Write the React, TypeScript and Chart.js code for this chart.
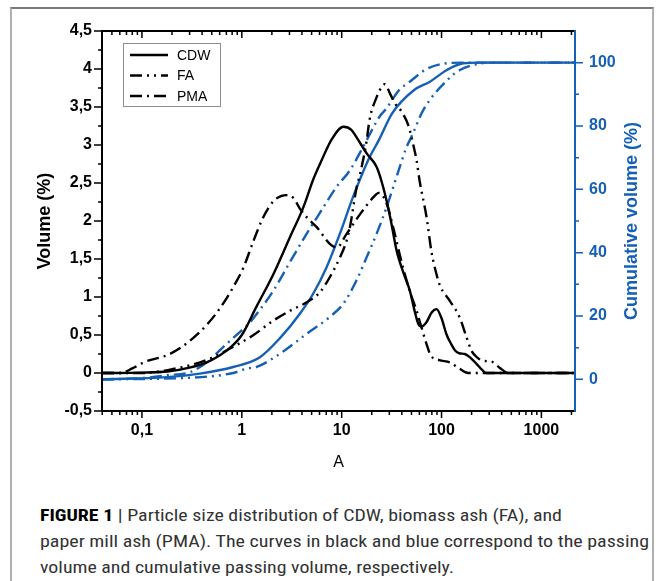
import React, { useEffect, useRef } from 'react';
import { Chart, registerables } from 'chart.js';

Chart.register(...registerables);

const BLACK = '#000000';
const BLUE = '#1560b5';
const FONT = '"Liberation Sans", Arial, Helvetica, sans-serif';

const seriesLabels = ['CDW', 'FA', 'PMA'];
const xTickValues = [0.1, 1, 10, 100, 1000];
const volumeTickValues = [-0.5, 0, 0.5, 1, 1.5, 2, 2.5, 3, 3.5, 4, 4.5];
const cumulativeTickValues = [0, 20, 40, 60, 80, 100];
const rightTitle = 'Cumulative volume (%)';

// Volume (%) curves, black, left axis
const cdwSize = [0.0398, 0.1, 0.18, 0.3, 0.48, 0.76, 1.0, 1.41, 2.07, 3.04, 4.13, 5.2, 6.3, 8.0, 10.4, 12.5, 14.1, 17.8, 22.4, 26.1, 30.6, 35.5, 42, 48.2, 53, 58.3, 63, 70, 80, 89, 100, 112, 125, 136, 150, 171, 195, 224, 255, 282, 2170];
const cdwVolume = [0, 0.005, 0.02, 0.07, 0.16, 0.33, 0.5, 0.88, 1.3, 1.79, 2.18, 2.55, 2.8, 3.08, 3.24, 3.2, 3.1, 2.89, 2.71, 2.44, 2.05, 1.61, 1.3, 1.08, 0.85, 0.65, 0.61, 0.66, 0.8, 0.84, 0.72, 0.51, 0.38, 0.3, 0.26, 0.25, 0.2, 0.12, 0.04, 0, 0];

const faSize = [0.0398, 0.1, 0.15, 0.2, 0.3, 0.5, 0.89, 1.31, 2.07, 3.04, 4.47, 6.03, 7.6, 9.6, 11.2, 12.1, 14.1, 15.3, 17.8, 19.0, 22.4, 25.1, 27, 30.4, 34, 39.8, 46.4, 52.8, 56.2, 60.3, 70.8, 79.4, 89, 96.4, 121, 152, 178, 200, 230, 261, 316, 381, 466, 2170];
const faVolume = [0, 0, 0.02, 0.05, 0.1, 0.2, 0.37, 0.5, 0.69, 0.82, 0.93, 1.06, 1.26, 1.52, 1.74, 1.92, 2.44, 2.62, 3.06, 3.33, 3.63, 3.76, 3.8, 3.68, 3.55, 3.44, 3.26, 2.97, 2.8, 2.53, 2.05, 1.59, 1.3, 1.15, 0.95, 0.73, 0.47, 0.29, 0.2, 0.16, 0.15, 0.07, 0, 0];

const pmaSize = [0.0398, 0.061, 0.08, 0.104, 0.19, 0.3, 0.45, 0.61, 0.82, 1.04, 1.31, 1.64, 2.07, 2.5, 2.82, 3.3, 3.83, 4.6, 5.62, 7.6, 8.9, 11.2, 15.3, 20.7, 23.5, 28.2, 33, 40, 48, 56.2, 63, 70.8, 78, 95, 121, 150, 185, 2170];
const pmaVolume = [0, 0, 0.06, 0.14, 0.25, 0.42, 0.64, 0.86, 1.13, 1.39, 1.74, 2.05, 2.26, 2.33, 2.34, 2.3, 2.16, 2.03, 1.92, 1.7, 1.65, 1.83, 2.09, 2.31, 2.37, 2.23, 1.9, 1.45, 1.08, 0.82, 0.6, 0.38, 0.23, 0.17, 0.14, 0.06, 0, 0];

// Cumulative volume (%) curves, blue, right axis
const cdwCumSize = [0.0398, 0.178, 0.38, 0.82, 1.52, 2.41, 3.83, 5.2, 7.08, 9.6, 13.0, 18.4, 24, 32, 52.8, 76.6, 112, 165, 238, 2170];
const cdwCumulative = [0, 0.7, 1.8, 3.9, 7.0, 13, 20.8, 27.1, 35.5, 46, 57.6, 69.2, 76, 84, 91.3, 94, 97.6, 99.8, 100, 100];

const faCumSize = [0.0398, 0.3, 0.82, 1.12, 1.41, 2.41, 4.47, 7.6, 10.4, 14.1, 17.8, 22.4, 28.2, 38.2, 44.7, 50, 65.6, 116, 151, 224, 300, 2170];
const faCumulative = [0, 0.5, 2, 3.4, 3.9, 8.1, 14.4, 19.7, 23.9, 31.3, 38.6, 46, 54.4, 67.1, 73.4, 76.6, 85, 94.7, 97.6, 99.5, 100, 100];

const pmaCumSize = [0.0398, 0.1, 0.178, 0.305, 0.45, 0.71, 0.96, 1.12, 1.52, 2.07, 3.03, 4.47, 6.0, 8.9, 12.1, 16.4, 24, 28, 38, 46, 71, 112, 160, 2170];
const pmaCumulative = [0, 0.4, 1.3, 2.3, 5.5, 11.3, 15, 16.8, 22, 28, 37, 46, 52.4, 60.8, 66, 73.4, 83, 85.5, 91.5, 93.5, 98, 99.8, 100, 100];

const DASH_FA = [12, 5, 2, 5, 2, 5];
const DASH_PMA = [12, 5, 2, 5];
const seriesDash = [[], DASH_FA, DASH_PMA];

const fmt = (v: number) => String(v).replace('.', ',');

const makeSet = (label: string, xs: number[], ys: number[], color: string, dash: number[], axis: string, legend: boolean) => ({
  label,
  data: xs.map((x, i) => ({ x, y: ys[i] })),
  borderColor: color,
  backgroundColor: color,
  borderWidth: 2.4,
  borderDash: dash,
  pointRadius: 0,
  pointHoverRadius: 0,
  cubicInterpolationMode: 'monotone',
  fill: false,
  yAxisID: axis,
  inLegend: legend,
});

const decorPlugin = {
  id: 'decor',
  afterDatasetsDraw(chart: any) {
    const { ctx, chartArea: a, scales } = chart;
    const xs = scales.x;
    const ys = scales.y;
    const yr = scales.y1;
    ctx.save();
    ctx.setLineDash([]);
    ctx.lineCap = 'butt';

    // black frame (left, bottom, top)
    ctx.strokeStyle = BLACK;
    ctx.lineWidth = 2;
    ctx.beginPath();
    ctx.moveTo(a.left, a.top);
    ctx.lineTo(a.right, a.top);
    ctx.moveTo(a.left, a.bottom);
    ctx.lineTo(a.right, a.bottom);
    ctx.moveTo(a.left, a.top - 1);
    ctx.lineTo(a.left, a.bottom + 1);
    ctx.stroke();

    // log ticks bottom (outward) and top (inward)
    ctx.lineWidth = 1.5;
    ctx.beginPath();
    for (let e = -2; e <= 3; e++) {
      for (let m = 1; m <= 9; m++) {
        const v = m * Math.pow(10, e);
        if (v < xs.min || v > xs.max) continue;
        const px = xs.getPixelForValue(v);
        const len = m === 1 ? 7 : 4;
        ctx.moveTo(px, a.bottom);
        ctx.lineTo(px, a.bottom + len);
        ctx.moveTo(px, a.top);
        ctx.lineTo(px, a.top + len);
      }
    }
    // left axis ticks
    for (let i = -2; i <= 18; i++) {
      const py = ys.getPixelForValue(i * 0.25);
      const len = i % 2 === 0 ? 8 : 4;
      ctx.moveTo(a.left, py);
      ctx.lineTo(a.left - len, py);
    }
    ctx.stroke();

    // right blue axis
    ctx.strokeStyle = BLUE;
    ctx.lineWidth = 2;
    ctx.beginPath();
    ctx.moveTo(a.right, a.top - 1);
    ctx.lineTo(a.right, a.bottom + 1);
    ctx.stroke();
    ctx.lineWidth = 1.5;
    ctx.beginPath();
    for (let v = 0; v <= 100; v += 10) {
      const py = yr.getPixelForValue(v);
      const len = v % 20 === 0 ? 8 : 4;
      ctx.moveTo(a.right, py);
      ctx.lineTo(a.right + len, py);
    }
    ctx.stroke();

    // right axis title, reading bottom-to-top
    ctx.save();
    ctx.translate(a.right + 57, (a.top + a.bottom) / 2);
    ctx.rotate(-Math.PI / 2);
    ctx.fillStyle = BLUE;
    ctx.font = `bold 18px ${FONT}`;
    ctx.textAlign = 'center';
    ctx.textBaseline = 'middle';
    ctx.fillText(rightTitle, 0, 0);
    ctx.restore();

    // legend box inside plot
    const bx = a.left + 21;
    const by = a.top + 12;
    const bw = 97;
    const bh = 63;
    ctx.strokeStyle = '#8c8c8c';
    ctx.lineWidth = 1;
    ctx.strokeRect(bx + 0.5, by + 0.5, bw, bh);
    ctx.font = `14px ${FONT}`;
    ctx.textBaseline = 'middle';
    ctx.textAlign = 'left';
    ctx.fillStyle = BLACK;
    const legendSets = chart.data.datasets.filter((d: any) => d.inLegend);
    legendSets.forEach((d: any, i: number) => {
      const ry = by + 12 + i * 20.5;
      ctx.strokeStyle = d.borderColor;
      ctx.lineWidth = 2.4;
      ctx.setLineDash(d.borderDash);
      ctx.beginPath();
      ctx.moveTo(bx + 7, ry);
      ctx.lineTo(bx + 45, ry);
      ctx.stroke();
      ctx.setLineDash([]);
      ctx.fillText(d.label, bx + 54, ry + 1);
    });
    ctx.restore();
  },
};

function ChartView() {
  const ref = useRef<HTMLCanvasElement | null>(null);
  useEffect(() => {
    if (!ref.current) return;
    const datasets: any[] = [
      makeSet(seriesLabels[0], cdwSize, cdwVolume, BLACK, seriesDash[0], 'y', true),
      makeSet(seriesLabels[1], faSize, faVolume, BLACK, seriesDash[1], 'y', true),
      makeSet(seriesLabels[2], pmaSize, pmaVolume, BLACK, seriesDash[2], 'y', true),
      makeSet(seriesLabels[0] + ' cumulative', cdwCumSize, cdwCumulative, BLUE, seriesDash[0], 'y1', false),
      makeSet(seriesLabels[1] + ' cumulative', faCumSize, faCumulative, BLUE, seriesDash[1], 'y1', false),
      makeSet(seriesLabels[2] + ' cumulative', pmaCumSize, pmaCumulative, BLUE, seriesDash[2], 'y1', false),
    ];
    const tickFont = { family: FONT, size: 16, weight: 'bold' as const };
    const chart = new Chart(ref.current, {
      type: 'line',
      data: { datasets },
      plugins: [decorPlugin],
      options: {
        responsive: false,
        animation: false,
        devicePixelRatio: 1,
        layout: { padding: { top: 31, left: 0, right: 0, bottom: 0 } },
        plugins: { legend: { display: false }, tooltip: { enabled: false } },
        scales: {
          x: {
            type: 'logarithmic',
            min: 0.0398,
            max: 2170,
            grid: { display: false, drawTicks: false },
            border: { display: false },
            afterBuildTicks: (s: any) => { s.ticks = xTickValues.map((v) => ({ value: v })); },
            afterFit: (s: any) => { s.height = 69; },
            ticks: { autoSkip: false, maxRotation: 0, padding: 10, color: BLACK, font: tickFont, callback: (v: any) => fmt(Number(v)) },
            title: { display: true, text: 'A', color: BLACK, font: { family: FONT, size: 16 }, padding: { top: 0, bottom: 8 } },
          },
          y: {
            type: 'linear',
            position: 'left',
            min: -0.5,
            max: 4.5,
            grid: { display: false, drawTicks: false },
            border: { display: false },
            afterBuildTicks: (s: any) => { s.ticks = volumeTickValues.map((v) => ({ value: v })); },
            afterFit: (s: any) => { s.width = 102; },
            ticks: { padding: 10, color: BLACK, font: tickFont, callback: (v: any) => fmt(Number(v)) },
            title: { display: true, text: 'Volume (%)', color: BLACK, font: { family: FONT, size: 18, weight: 'bold' }, padding: { top: 34, bottom: 0 } },
          },
          y1: {
            type: 'linear',
            position: 'right',
            min: -10,
            max: 110,
            grid: { display: false, drawTicks: false },
            border: { display: false },
            afterBuildTicks: (s: any) => { s.ticks = cumulativeTickValues.map((v) => ({ value: v })); },
            afterFit: (s: any) => { s.width = 88; },
            ticks: { padding: 14, color: BLUE, font: tickFont, callback: (v: any) => String(v) },
            title: { display: false },
          },
        },
      } as any,
    });
    return () => chart.destroy();
  }, []);
  return <canvas ref={ref} width={663} height={480} style={{ position: 'absolute', left: 0, top: 0, width: 663, height: 480 }} />;
}

const captionFont = '"Liberation Sans Narrow", "Roboto Condensed", "DejaVu Sans Condensed", "Liberation Sans", sans-serif';

export default function App() {
  return (
    <div>
      <div
        style={{
          position: 'absolute',
          left: 10,
          top: 7,
          width: 644,
          height: 640,
          borderLeft: '2px solid #b0b0b0',
          borderRight: '2px solid #b0b0b0',
          borderTop: '2px solid #7a7a7a',
          boxSizing: 'border-box',
        }}
      />
      <ChartView />
      <svg width={663} height={100} style={{ position: 'absolute', left: 0, top: 490 }}>
        <text x={40} y={31} fontSize={17} fontFamily={captionFont} fill="#333333" textLength={522} lengthAdjust="spacingAndGlyphs">
          <tspan fontWeight="bold" fill="#000">FIGURE 1</tspan> | Particle size distribution of CDW, biomass ash (FA), and
        </text>
        <text x={40} y={57} fontSize={17} fontFamily={captionFont} fill="#333333" textLength={609} lengthAdjust="spacingAndGlyphs">
          paper mill ash (PMA). The curves in black and blue correspond to the passing
        </text>
        <text x={40} y={83} fontSize={17} fontFamily={captionFont} fill="#333333" textLength={414} lengthAdjust="spacingAndGlyphs">
          volume and cumulative passing volume, respectively.
        </text>
      </svg>
    </div>
  );
}
